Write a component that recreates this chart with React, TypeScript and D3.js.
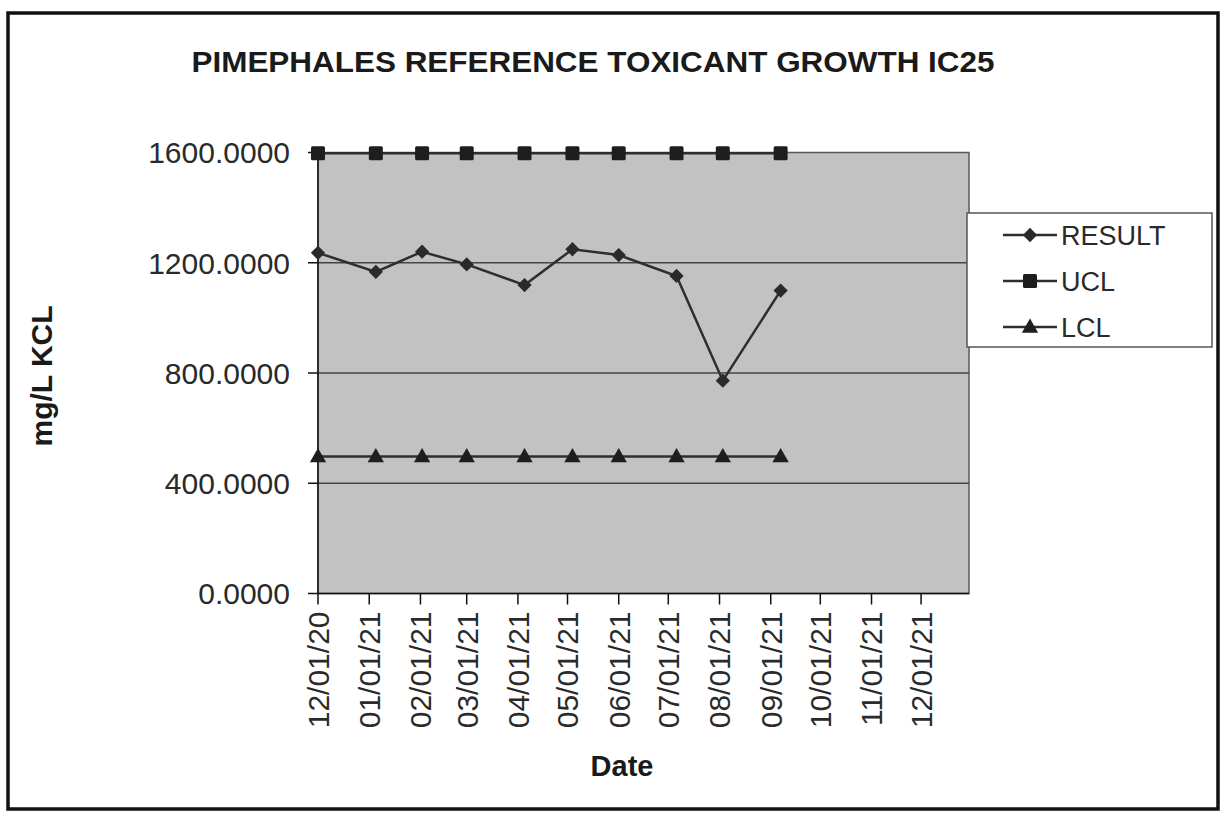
import React from 'react';
import * as d3 from 'd3';

// ─── Data ─────────────────────────────────────────────────────────────────────
const TEST_DATES = [
  '2020-12-01', '2021-01-05', '2021-02-02', '2021-03-01', '2021-04-05',
  '2021-05-04', '2021-06-01', '2021-07-06', '2021-08-03', '2021-09-07',
];
const RESULT = [1236, 1167, 1240, 1194, 1119, 1249, 1228, 1152, 772, 1099];
const UCL = [1597, 1597, 1597, 1597, 1597, 1597, 1597, 1597, 1597, 1597];
const LCL = [497, 497, 497, 497, 497, 497, 497, 497, 497, 497];
const Y_TICKS = [0, 400, 800, 1200, 1600];
const X_TICK_MONTHS = [
  '2020-12-01', '2021-01-01', '2021-02-01', '2021-03-01', '2021-04-01', '2021-05-01', '2021-06-01',
  '2021-07-01', '2021-08-01', '2021-09-01', '2021-10-01', '2021-11-01', '2021-12-01',
];
const X_DOMAIN = ['2020-12-01', '2021-12-30'];

const FONT = '"Liberation Sans", Arial, sans-serif';
const parse = d3.timeParse('%Y-%m-%d');
const fmt = d3.timeFormat('%m/%d/%y');

const SERIES = [
  { name: 'RESULT', values: RESULT, marker: 'diamond' },
  { name: 'UCL', values: UCL, marker: 'square' },
  { name: 'LCL', values: LCL, marker: 'triangle' },
];

// ─── Markers ──────────────────────────────────────────────────────────────────
function Marker({ type, x, y }: { type: string; x: number; y: number }) {
  if (type === 'diamond') {
    const p = d3.symbol().type(d3.symbolDiamond2).size(130)();
    return <path d={p!} transform={`translate(${x},${y})`} fill="#2a2a2a" />;
  }
  if (type === 'square') {
    return <rect x={x - 7} y={y - 7} width={14} height={14} rx={1.5} fill="#1e1e1e" />;
  }
  const p = d3.symbol().type(d3.symbolTriangle).size(115)();
  return <path d={p!} transform={`translate(${x},${y + 1})`} fill="#1e1e1e" />;
}

export default function App() {
  const left = 318, right = 969, top = 152.5, bottom = 593.5;
  const x = d3.scaleTime().domain(X_DOMAIN.map(d => parse(d)!)).range([left, right]);
  const y = d3.scaleLinear().domain([0, 1600]).range([bottom, top]);
  const dates = TEST_DATES.map(d => parse(d)!);
  const line = d3.line<number>().x((_, i) => x(dates[i])).y(v => y(v));

  return (
    <div style={{ position: 'absolute', left: 0, top: 0 }}>
      <svg width={1222} height={813} style={{ display: 'block', background: '#fff' }} fontFamily={FONT}>
        {/* outer frame */}
        <rect x={8} y={13} width={1210} height={796} fill="none" stroke="#111" strokeWidth={3.5} />

        {/* title */}
        <text x={593} y={72} textAnchor="middle" fontSize={30} fontWeight={700} fill="#1a1a1a"
          textLength={803} lengthAdjust="spacingAndGlyphs">
          PIMEPHALES REFERENCE TOXICANT GROWTH IC25
        </text>

        {/* plot area */}
        <rect x={left} y={top} width={right - left} height={bottom - top} fill="#c2c2c2" stroke="#5a5a5a" strokeWidth={1.5} />
        {Y_TICKS.filter(t => t > 0 && t < 1600).map(t => (
          <line key={t} x1={left} x2={right} y1={y(t)} y2={y(t)} stroke="#444" strokeWidth={1.5} />
        ))}

        {/* y axis */}
        <line x1={left} x2={left} y1={top} y2={bottom} stroke="#111" strokeWidth={1.5} />
        {Y_TICKS.map(t => (
          <g key={t}>
            <line x1={left - 10} x2={left} y1={y(t)} y2={y(t)} stroke="#111" strokeWidth={1.5} />
            <text x={290} y={y(t)} dy="0.36em" textAnchor="end" fontSize={30} fill="#2a2a2a">
              {d3.format('.4f')(t)}
            </text>
          </g>
        ))}
        <text transform={`translate(52,376) rotate(-90)`} textAnchor="middle" fontSize={30} fontWeight={700} fill="#1a1a1a">
          mg/L KCL
        </text>

        {/* x axis */}
        <line x1={left} x2={right} y1={bottom} y2={bottom} stroke="#111" strokeWidth={1.5} />
        {X_TICK_MONTHS.map(m => {
          const d = parse(m)!;
          const px = x(d);
          return (
            <g key={m}>
              <line x1={px} x2={px} y1={bottom} y2={bottom + 11} stroke="#111" strokeWidth={1.5} />
              <text transform={`translate(${px},${bottom + 18}) rotate(-90)`} dy="0.36em" textAnchor="end"
                fontSize={30} fill="#2a2a2a">
                {fmt(d)}
              </text>
            </g>
          );
        })}
        <text x={622} y={776} textAnchor="middle" fontSize={29} fontWeight={700} fill="#1a1a1a">Date</text>

        {/* series */}
        {SERIES.map(s => (
          <g key={s.name}>
            <path d={line(s.values)!} fill="none" stroke="#2e2e2e" strokeWidth={2.5} />
            {s.values.map((v, i) => (
              <Marker key={i} type={s.marker} x={x(dates[i])} y={y(v)} />
            ))}
          </g>
        ))}

        {/* legend */}
        <rect x={967} y={213} width={245} height={134} fill="#fff" stroke="#555" strokeWidth={1.5} />
        {SERIES.map((s, i) => {
          const ly = 235 + i * 46;
          return (
            <g key={s.name}>
              <line x1={1003} x2={1057} y1={ly} y2={ly} stroke="#2e2e2e" strokeWidth={2.5} />
              <Marker type={s.marker} x={1030} y={ly} />
              <text x={1061} y={ly} dy="0.36em" fontSize={27} fill="#2a2a2a">{s.name}</text>
            </g>
          );
        })}
      </svg>
    </div>
  );
}
